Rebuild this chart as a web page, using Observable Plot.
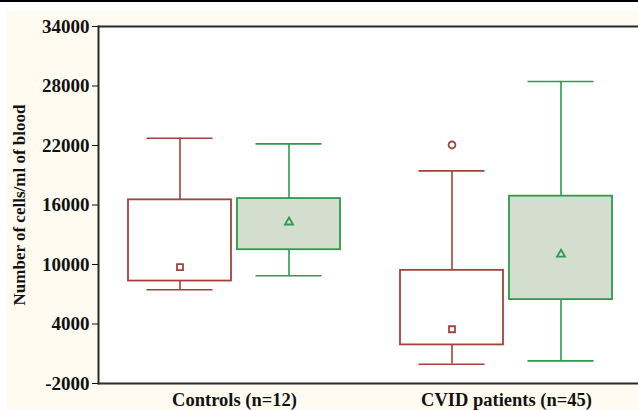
<!DOCTYPE html>
<html><head><meta charset="utf-8">
<script src="https://cdn.jsdelivr.net/npm/d3@7"></script>
<script src="https://cdn.jsdelivr.net/npm/@observablehq/plot@0.6"></script>
<style>
body{margin:0;background:#fff;}
#wrap{position:relative;width:638px;height:410px;overflow:hidden;}
#cream{position:absolute;left:7px;top:11px;right:0;bottom:0;background:#fffbf1;}
#topline{position:absolute;left:0;top:0;width:638px;height:2px;background:#000;}
#chart{position:absolute;left:0;top:0;}
</style></head><body>
<div id="wrap"><div id="cream"></div><div id="topline"></div><div id="chart"></div></div>
<script>
// Categories
const groups = ["Controls (n=12)", "CVID patients (n=45)"];
const seriesNames = ["Series 1", "Series 2"];
// Box-plot values, order: Controls S1, Controls S2, CVID S1, CVID S2
const whiskerLow  = [7460, 8870, -60, 280];
const boxLow      = [8330, 11490, 1890, 6460];
const centerValue = [9740, 14270, 3470, 11020];
const boxHigh     = [16520, 16650, 9410, 16890];
const whiskerHigh = [22730, 22160, 19440, 28460];
// Outliers
const outlierGroup  = ["CVID patients (n=45)"];
const outlierSeries = ["Series 1"];
const outlierValue  = [22060];
// Y ticks
const yTicks = [-2000, 4000, 10000, 16000, 22000, 28000, 34000];
const yTitle = "Number of cells/ml of blood";

const strokeColors = ["#a2433b", "#2e9b4e"];
const fillColors = ["#ffffff", "#d4decf"];
const symbols = ["square", "triangle"];
const symbolR = [3.8, 3.0];

const rows = whiskerLow.map((_, i) => ({
  group: groups[Math.floor(i / 2)],
  series: seriesNames[i % 2],
  wlo: whiskerLow[i], q1: boxLow[i], mid: centerValue[i], q3: boxHigh[i], whi: whiskerHigh[i]
}));
const outliers = outlierValue.map((v, i) => ({group: outlierGroup[i], series: outlierSeries[i], value: v}));

const si = d => seriesNames.indexOf(d.series);
const col = d => strokeColors[si(d)];
const fillc = d => fillColors[si(d)];

const chart = Plot.plot({
  width: 638,
  height: 410,
  marginLeft: 98,
  marginRight: -4,
  marginTop: 26,
  marginBottom: 27,
  style: {background: "transparent", fontFamily: "'Liberation Serif', 'Times New Roman', serif", color: "#111"},
  fx: {domain: groups, padding: 0, label: null},
  x: {domain: seriesNames, paddingInner: 0.055, paddingOuter: 0.275, axis: null},
  y: {domain: [-2000, 34000], label: null},
  marks: [
    Plot.frame({fill: "white", stroke: "none"}),
    Plot.ruleX(rows, {fx: "group", x: "series", y1: "wlo", y2: "whi", stroke: col, strokeWidth: 1.6}),
    Plot.tickY(rows, {fx: "group", x: "series", y: "whi", stroke: col, strokeWidth: 1.6, inset: 18.5}),
    Plot.tickY(rows, {fx: "group", x: "series", y: "wlo", stroke: col, strokeWidth: 1.6, inset: 18.5}),
    Plot.barY(rows, {fx: "group", x: "series", y1: "q1", y2: "q3", fill: fillc, stroke: col, strokeWidth: 1.8, inset: 0}),
    Plot.dot(rows, {fx: "group", x: "series", y: "mid", symbol: d => symbols[si(d)], r: d => symbolR[si(d)], stroke: col, strokeWidth: 1.8}),
    Plot.dot(outliers, {fx: "group", x: "series", y: "value", symbol: "circle", r: 3.4, stroke: col, strokeWidth: 1.8}),
    Plot.ruleY([34000, -2000], {stroke: "#2a2a2a", strokeWidth: 2}),
    Plot.frame({anchor: "left", facetAnchor: "left", stroke: "#2a2a2a", strokeWidth: 2}),
    Plot.axisY({ticks: yTicks, tickFormat: d => String(d), tickSize: 6, tickPadding: 3, fontSize: 19, fontWeight: "bold",
      label: null}),
    Plot.text([yTitle], {frameAnchor: "left", facetAnchor: "left", rotate: -90, dx: -79, textAnchor: "middle", fontSize: 17, fontWeight: "bold", fill: "#111"}),
    Plot.axisFx({anchor: "bottom", tickSize: 0, tickPadding: 9, fontSize: 18.5, fontWeight: "bold", label: null})
  ]
});
document.getElementById("chart").appendChild(chart);
</script>
</body></html>
